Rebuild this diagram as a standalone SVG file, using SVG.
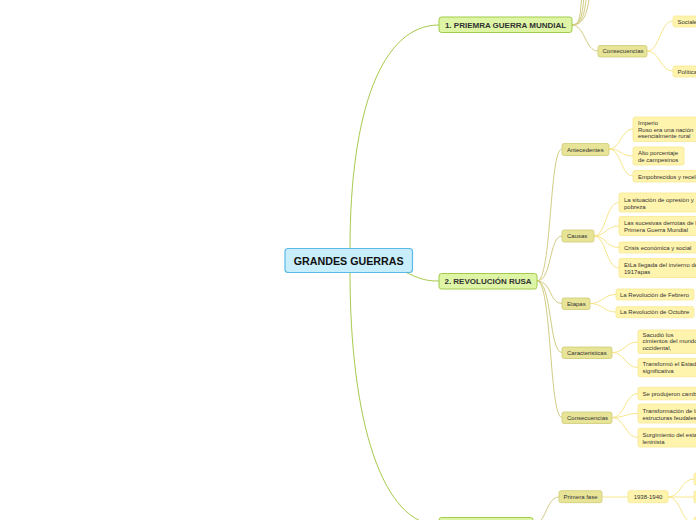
<svg xmlns="http://www.w3.org/2000/svg" width="696" height="520" viewBox="0 0 696 520">
<style>
text{font-family:"Liberation Sans",Arial,sans-serif;fill:#333}
.c rect{fill:#c8edfb;stroke:#5cb9e8;stroke-width:1.2}
.c text{font-size:10.7px;font-weight:bold;fill:#111}
.m rect{fill:#def5a6;stroke:#a2cb4a;stroke-width:1}
.m text{font-size:8px;font-weight:bold;fill:#333}
.s rect{fill:#e7e497;stroke:#cfcb74;stroke-width:0.8}
.s text{font-size:6px}
.l rect{fill:#fff4ad;stroke:#f8e890;stroke-width:0.8}
.l text{font-size:6px}
#conn path{fill:none}
.g{stroke:#a8c94e;stroke-width:1}
.o{stroke:#d2cc83;stroke-width:1}
.y{stroke:#f8e68c;stroke-width:1}
</style>
<g id="conn">
<path class="g" d="M350,249 C350,110 382,25 439,25"/>
<path class="g" d="M350,272 C350,420 382,525 439,525"/>
<path class="g" d="M403,271 C420,279 425,281 439,281"/>
<path class="o" d="M572,25 C582,25 580,10 583,-20"/>
<path class="o" d="M572,25 C584,25 583,5 586,-30"/>
<path class="o" d="M572,25 C586,25 586,5 589,-40"/>
<path class="o" d="M572,25 C588,25 590,5 593,-50"/>
<path class="o" d="M572,25 C585,25 585,51 598,51"/>
<path class="y" d="M647,51 C660,51 660,21 673,21"/>
<path class="y" d="M647,51 C660,51 660,71 673,71"/>
<path class="o" d="M537,281 C552,281 549,149 562,149"/>
<path class="o" d="M537,281 C552,281 549,236 562,236"/>
<path class="o" d="M537,281 C552,281 549,303.5 562,303.5"/>
<path class="o" d="M537,281 C552,281 549,352.5 562,352.5"/>
<path class="o" d="M537,281 C552,281 549,417.5 562,417.5"/>
<path class="y" d="M609,149 C621,149 621,129 633,129"/>
<path class="y" d="M609,149 C621,149 621,156 633,156"/>
<path class="y" d="M609,149 C621,149 621,176 633,176"/>
<path class="y" d="M594,236 C606,236 606,202.5 619,202.5"/>
<path class="y" d="M594,236 C606,236 606,226 619,226"/>
<path class="y" d="M594,236 C606,236 606,247.5 619,247.5"/>
<path class="y" d="M594,236 C606,236 606,268 619,268"/>
<path class="y" d="M590,303.5 C603,303.5 603,294.5 616,294.5"/>
<path class="y" d="M590,303.5 C603,303.5 603,312 616,312"/>
<path class="y" d="M612,352.5 C625,352.5 625,342 638,342"/>
<path class="y" d="M612,352.5 C625,352.5 625,367.5 638,367.5"/>
<path class="y" d="M612,417.5 C625,417.5 625,393.5 638,393.5"/>
<path class="y" d="M612,417.5 C625,417.5 625,413.5 638,413.5"/>
<path class="y" d="M612,417.5 C625,417.5 625,437.5 638,437.5"/>
<path class="o" d="M533,525 C546,525 546,497 559,497"/>
<path class="y" d="M602,497 L628,497"/>
<path class="y" d="M668,497 C681,497 681,479 694,479"/>
<path class="y" d="M668,497 L694,497"/>
<path class="y" d="M668,497 C681,497 681,523 694,523"/>
</g>
<g id="central" class="c"><rect x="285" y="248.5" width="127.5" height="24" rx="3"/><text x="348.7" y="264.5" text-anchor="middle">GRANDES GUERRAS</text></g>
<g id="pgm" class="m"><rect x="439" y="17" width="133" height="15.5" rx="2.5"/><text x="505.5" y="27.8" text-anchor="middle">1. PRIEMRA GUERRA MUNDIAL</text></g>
<g id="rr" class="m"><rect x="439" y="273.5" width="98" height="15.5" rx="2.5"/><text x="488" y="284.3" text-anchor="middle">2. REVOLUCIÓN RUSA</text></g>
<g id="m3" class="m"><rect x="439" y="517.5" width="94" height="15.5" rx="2.5"/></g>
<g id="pgm-cons" class="s"><rect x="598" y="45.5" width="49" height="11.5" rx="2"/><text x="602.5" y="53.4">Consecuencias</text></g>
<g id="sociales" class="l"><rect x="673" y="16" width="40" height="11" rx="2"/><text x="677.5" y="23.5">Sociales</text></g>
<g id="politica" class="l"><rect x="673" y="66" width="40" height="11" rx="2"/><text x="677.5" y="73.5">Política</text></g>
<g id="antecedentes" class="s"><rect x="562" y="143.5" width="47" height="12" rx="2"/><text x="567" y="151.7">Antecedentes</text></g>
<g id="causas" class="s"><rect x="562" y="230" width="32" height="12" rx="2"/><text x="567" y="238.2">Causas</text></g>
<g id="etapas" class="s"><rect x="562" y="298" width="28" height="11.5" rx="2"/><text x="567" y="305.8">Etapas</text></g>
<g id="caracteristicas" class="s"><rect x="562" y="347" width="50" height="11.5" rx="2"/><text x="567" y="354.8">Caracteristicas</text></g>
<g id="rr-cons" class="s"><rect x="562" y="412" width="50" height="11.5" rx="2"/><text x="567" y="419.8">Consecuencias</text></g>
<g id="a1" class="l"><rect x="633" y="117" width="80" height="24.5" rx="2"/><text x="638" y="125">Imperio</text><text x="638" y="131.5">Ruso era una nación</text><text x="638" y="138">esencialmente rural</text></g>
<g id="a2" class="l"><rect x="633" y="147" width="51" height="18" rx="2"/><text x="638" y="155">Alto porcentaje</text><text x="638" y="162">de campesinos</text></g>
<g id="a3" class="l"><rect x="633" y="170.5" width="80" height="11.5" rx="2"/><text x="638" y="178.5">Empobrecidos y recelosos</text></g>
<g id="c1" class="l"><rect x="619" y="193" width="90" height="19" rx="2"/><text x="624" y="202">La situación de opresión y</text><text x="624" y="208.7">pobreza</text></g>
<g id="c2" class="l"><rect x="619" y="216.5" width="90" height="19" rx="2"/><text x="624" y="225.2">Las sucesivas derrotas de la</text><text x="624" y="231.9">Primera Guerra Mundial</text></g>
<g id="c3" class="l"><rect x="619" y="242" width="90" height="11" rx="2"/><text x="624" y="249.8">Crisis económica y social</text></g>
<g id="c4" class="l"><rect x="619" y="258.5" width="90" height="19" rx="2"/><text x="624" y="267.2">EtLa llegada del invierno de</text><text x="624" y="273.9">1917apas</text></g>
<g id="e1" class="l"><rect x="616" y="289" width="78" height="11" rx="2"/><text x="620" y="296.6">La Revolución de Febrero</text></g>
<g id="e2" class="l"><rect x="616" y="306.7" width="78" height="11" rx="2"/><text x="620" y="314.3">La Revolución de Octubre</text></g>
<g id="k1" class="l"><rect x="638" y="330" width="80" height="23.5" rx="2"/><text x="642.5" y="337">Sacudió los</text><text x="642.5" y="343.3">cimientos del mundo</text><text x="642.5" y="349.6">occidental,</text></g>
<g id="k2" class="l"><rect x="638" y="358.3" width="80" height="18.5" rx="2"/><text x="642.5" y="366.3">Transformó el Estado de</text><text x="642.5" y="372.8">significativa</text></g>
<g id="q1" class="l"><rect x="638" y="387.3" width="80" height="12.5" rx="2"/><text x="642.5" y="396">Se produjeron cambios</text></g>
<g id="q2" class="l"><rect x="638" y="404" width="80" height="19" rx="2"/><text x="642.5" y="412.7">Transformación de las</text><text x="642.5" y="419.5">estructuras feudales</text></g>
<g id="q3" class="l"><rect x="638" y="428.3" width="80" height="18.7" rx="2"/><text x="642.5" y="436.5">Surgimiento del estado</text><text x="642.5" y="443.5">leninista</text></g>
<g id="primera-fase" class="s"><rect x="559" y="490.7" width="43" height="12" rx="2"/><text x="563.5" y="499">Primera fase</text></g>
<g id="f1" class="l"><rect x="628" y="490.7" width="40" height="12" rx="2"/><text x="648" y="499" text-anchor="middle">1938-1940</text></g>
<g id="f1a" class="l"><rect x="694" y="473" width="20" height="12" rx="2"/></g>
<g id="f1b" class="l"><rect x="694" y="491" width="20" height="12" rx="2"/></g>
<g id="f1c" class="l"><rect x="694" y="517" width="20" height="12" rx="2"/></g>
</svg>
